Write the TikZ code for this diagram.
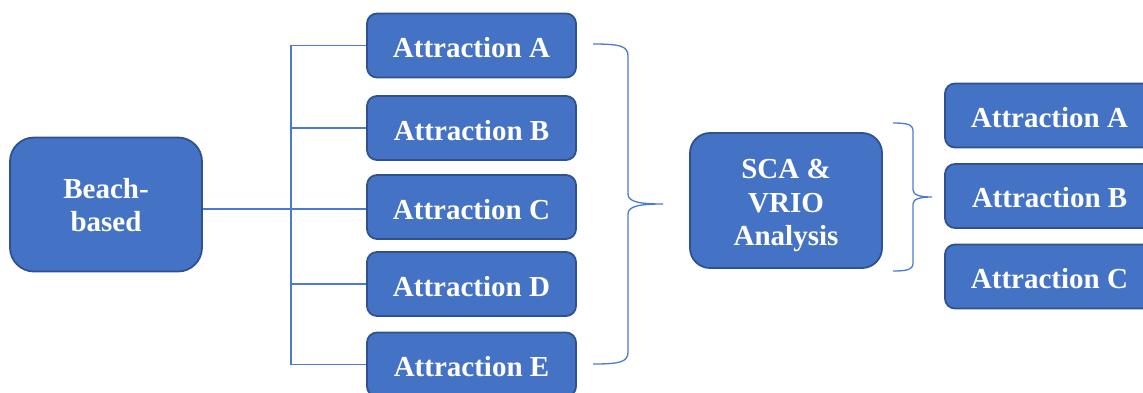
\documentclass[tikz,border=0pt]{standalone}
\usepackage{fontspec}
\setmainfont{Liberation Serif}
\definecolor{boxfill}{HTML}{4472C4}
\definecolor{boxdraw}{HTML}{2F528F}
\definecolor{linecol}{HTML}{4A7BD0}
\newcommand\boxtext[2]{\raisebox{-#1}[\height][\depth]{\renewcommand\arraystretch{1}\setlength\tabcolsep{0pt}\begin{tabular}{c}#2\end{tabular}}}
\begin{document}
\begin{tikzpicture}[x=1pt,y=-1pt,
  box/.style={draw=boxdraw, line width=1.8pt, fill=boxfill, text=white,
    font=\fontsize{29}{33.5}\selectfont\bfseries, inner sep=0pt},
  attr/.style={box, minimum width=209pt, minimum height=64pt, rounded corners=10pt},
  conn/.style={draw=linecol, line width=1.3pt},
  brace/.style={draw=linecol, line width=1.3pt}]
\useasboundingbox (0,0) rectangle (1143,392);
\clip (0,0) rectangle (1143,392);
% left node
\node[box, minimum width=192pt, minimum height=134pt, rounded corners=24pt] (beach) at (106,204.5) {\boxtext{4pt}{Beach-\\based}};
% left column
\node[attr] (la) at (471.5,45.5) {\boxtext{5.5pt}{Attraction A}};
\node[attr] (lb) at (471.5,128) {\boxtext{5.5pt}{Attraction B}};
\node[attr] (lc) at (471.5,207) {\boxtext{5.5pt}{Attraction C}};
\node[attr] (ld) at (471.5,284) {\boxtext{5.5pt}{Attraction D}};
\node[attr] (le) at (471.5,364.5) {\boxtext{5.5pt}{Attraction E}};
% middle
\node[box, minimum width=192pt, minimum height=135pt, rounded corners=20pt] (sca) at (786,200.5) {\boxtext{5pt}{SCA \&\\VRIO\\Analysis}};
% right column
\node[attr] (ra) at (1049.5,115.5) {\boxtext{5pt}{Attraction A}};
\node[attr] (rb) at (1049.5,196) {\boxtext{5pt}{Attraction B}};
\node[attr] (rc) at (1049.5,276.5) {\boxtext{5pt}{Attraction C}};
% connectors
\coordinate (trunk) at (291,0);
\draw[conn] ([yshift=-2pt]lc.west -| beach.east) -- ([yshift=-2pt]lc.west);
\draw[conn] (la.west) -- (la.west -| trunk) -- (le.west -| trunk) -- (le.west);
\draw[conn] (lb.west -| trunk) -- (lb.west);
\draw[conn] (ld.west -| trunk) -- (ld.west);
% brace 1
\draw[brace] (593,44) .. controls (620,44) and (628,46) .. (628,56) -- (628,194)
  .. controls (628,202) and (640,204) .. (663,204)
  .. controls (640,204) and (628,206) .. (628,214) -- (628,352)
  .. controls (628,362) and (620,364) .. (593,364);
% brace 2
\draw[brace] (893,123) .. controls (906,123) and (913,124) .. (913,131) -- (913,190)
  .. controls (913,195) and (920,197) .. (932,197)
  .. controls (920,197) and (913,199) .. (913,204) -- (913,263)
  .. controls (913,270) and (906,271) .. (893,271);
\end{tikzpicture}
\end{document}
